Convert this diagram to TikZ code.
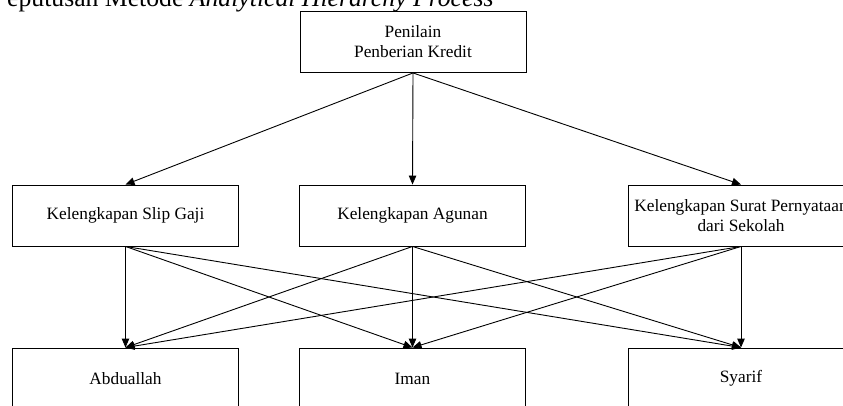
\documentclass[tikz,border=0pt]{standalone}
\usepackage{fontspec}
\setmainfont{Liberation Serif}
\usetikzlibrary{arrows.meta}
\begin{document}
\begin{tikzpicture}[x=1pt,y=-1pt,
  box/.style={draw, line width=0.9pt, minimum width=226pt, minimum height=61pt,
    inner sep=0pt, align=center, font=\fontsize{17.3}{20}\selectfont},
  conn/.style={line width=0.9pt, -{Triangle[length=9pt,width=7.5pt]}},
]
\useasboundingbox (0,0) rectangle (843,406);
\clip (0,0) rectangle (843,406);
\node[anchor=base west, inner sep=0pt, font=\fontsize{25.7}{30}\selectfont] (title) at (7,6.7)
  {eputusan Metode \textit{Analytical Hierarchy Process}};
\node[box] (top) at (413,42) {Penilain\\Penberian Kredit};
\node[box] (m1) at (125.5,215.5) {Kelengkapan Slip Gaji};
\node[box] (m2) at (412.5,215.5) {Kelengkapan Agunan};
\node[box] (m3) at (741,215.5) {Kelengkapan Surat Pernyataan\\dari Sekolah};
\node[box] (b1) at (125.5,378.5) {Abduallah};
\node[box] (b2) at (412.5,378.5) {Iman};
\node[box] (b3) at (741,378.5) {Syarif};
\foreach \m in {m1,m2,m3} \draw[conn] (top.south) -- (\m.north);
\foreach \m in {m1,m2,m3} \foreach \b in {b1,b2,b3} \draw[conn] (\m.south) -- (\b.north);
\end{tikzpicture}
\end{document}
